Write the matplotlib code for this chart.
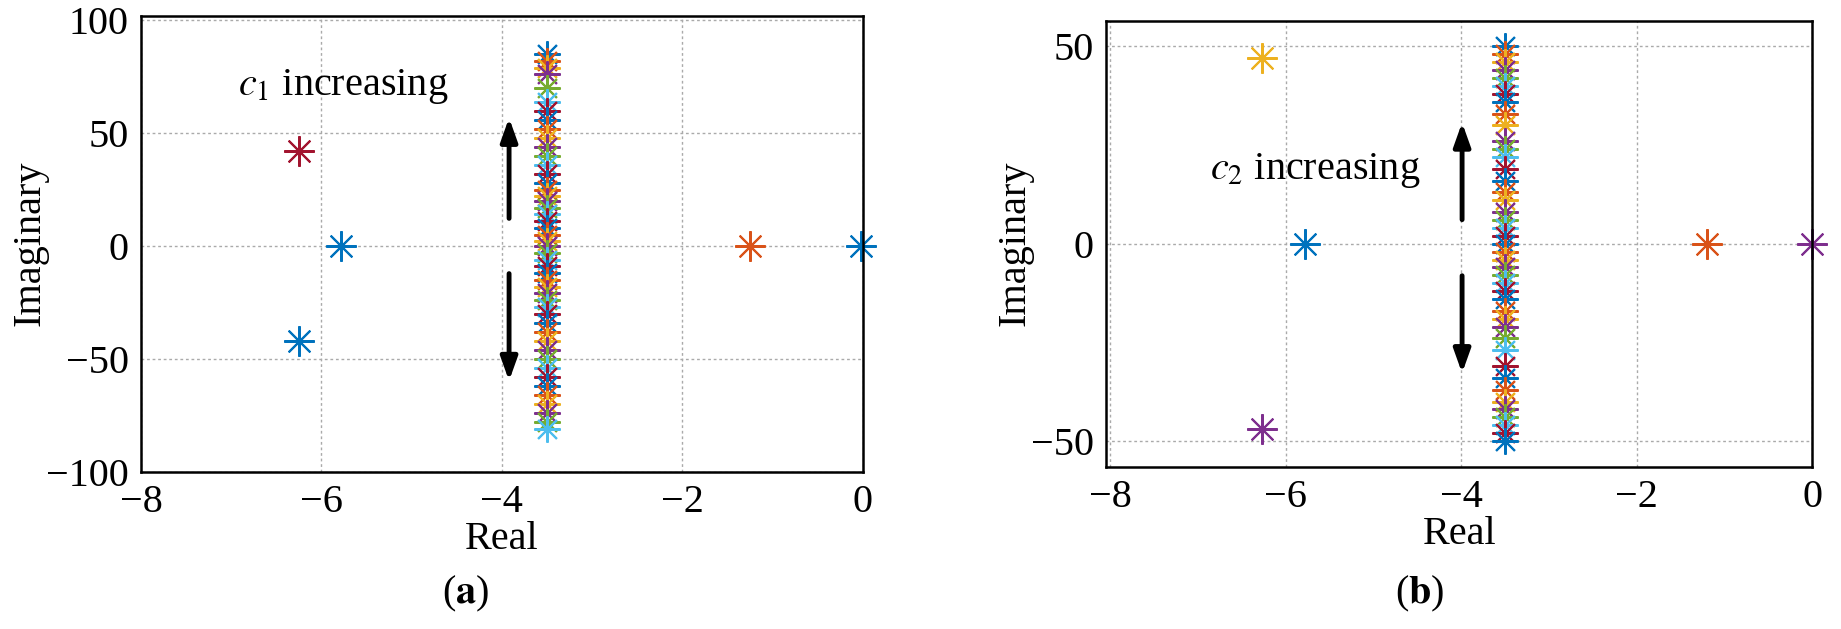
import matplotlib.pyplot as plt

plt.rcParams['font.family'] = ['Liberation Serif', 'DejaVu Serif']
plt.rcParams['mathtext.fontset'] = 'stix'

colors = ['#0072BD', '#D95319', '#EDB120', '#7E2F8E', '#77AC30', '#4DBEEE', '#A2142F']

# panel (a): isolated poles
a_re = [-6.25, -6.25, -5.78, -1.25, -0.02]
a_im = [42, -42, 0, 0, 0]
a_col = ['#A2142F', '#0072BD', '#0072BD', '#D95319', '#0072BD']
# panel (a): column of poles at Re = -3.5
a_col_im = [85, 82, 79, 76, 70, 64, 60, 56, 52, 48, 44, 40, 36, 32, 28, 25, 22, 20, 17, 14,
            11, 8, 5, 2, 0, -3, -6, -9, -12, -15, -18, -21, -24, -27, -30, -34, -38, -42,
            -46, -50, -54, -58, -62, -66, -70, -74, -78, -81]

# panel (b)
b_re = [-6.27, -6.27, -5.78, -1.2, 0.0]
b_im = [47, -47, 0, 0, 0]
b_col = ['#EDB120', '#7E2F8E', '#0072BD', '#D95319', '#7E2F8E']
b_col_im = [50, 48, 46, 44, 42, 40, 38, 36, 33, 30, 26, 24, 22, 19, 16, 13, 11, 8, 6, 4, 2, 0,
            -2, -4, -6, -8, -10, -12, -14, -17, -19, -21, -24, -27, -31, -34, -37, -40,
            -42, -44, -46, -48, -50]
col_re = -3.5

fig = plt.figure(figsize=(18.41, 6.29), dpi=100)
ax1 = fig.add_axes([0.0766, 0.250, 0.392, 0.725])
ax2 = fig.add_axes([0.601, 0.258, 0.3835, 0.709])

asterisk = (8, 2, 0)

def draw(ax, re, im, cols, colim, xlim, ylim, yticks, label, tx, ty, ax_x, arrows):
    ax.grid(True, linestyle=(0, (2, 2)), color='#aaaaaa', linewidth=1)
    ax.set_axisbelow(True)
    for i, y in enumerate(colim):
        ax.plot(col_re, y, marker=asterisk, color=colors[i % len(colors)],
                markersize=19, markeredgewidth=1.5, linestyle='none', clip_on=False)
    for x, y, c in zip(re, im, cols):
        ax.plot(x, y, marker=asterisk, color=c, markersize=22, markeredgewidth=1.5,
                linestyle='none', clip_on=False)
    ax.set_xlim(*xlim)
    ax.set_ylim(*ylim)
    ax.set_xticks([-8, -6, -4, -2, 0])
    ax.set_yticks(yticks)
    ax.tick_params(labelsize=29, length=0, pad=9)
    ax.set_xlabel('Real', fontsize=29, labelpad=0)
    ax.set_ylabel('Imaginary', fontsize=29, labelpad=-2)
    for s in ax.spines.values():
        s.set_linewidth(1.8)
    ax.text(tx, ty, label, fontsize=29)
    for (y0, y1) in arrows:
        ax.annotate('', xy=(ax_x, y1), xytext=(ax_x, y0),
                    arrowprops=dict(arrowstyle='-|>,head_length=1.4,head_width=0.5',
                                    color='black', lw=3.5))

draw(ax1, a_re, a_im, a_col, a_col_im, (-8, 0), (-100, 102), [-100, -50, 0, 50, 100],
     r'$c_1$ increasing', -6.93, 67, -3.92, [(11, 58), (-11, -61)])
draw(ax2, b_re, b_im, b_col, b_col_im, (-8.04, 0), (-56.5, 56.5), [-50, 0, 50],
     r'$c_2$ increasing', -6.86, 16.5, -3.99, [(5.4, 31.4), (-7.4, -33.5)])

fig.text(0.253, 0.04, r'($\mathbf{a}$)', fontsize=29, ha='center')
fig.text(0.771, 0.04, r'($\mathbf{b}$)', fontsize=29, ha='center')

fig.savefig('out.png', dpi=100)
